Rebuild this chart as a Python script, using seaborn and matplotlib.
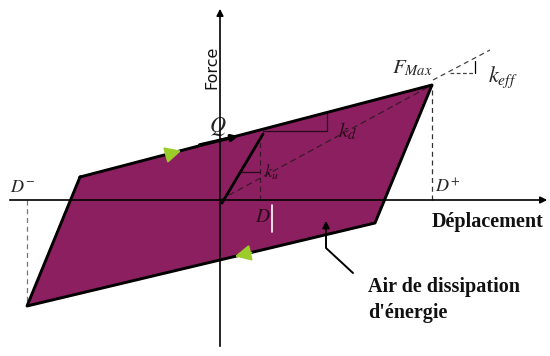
import matplotlib
matplotlib.use("Agg")
import matplotlib.pyplot as plt
import seaborn as sns
import pandas as pd

# Bilinear hysteresis loop (displacement, force), corners in loop order
loop_disp = [-14.0, 21.2, 15.5, -19.3, -14.0]
loop_force = [2.3, 11.5, -2.3, -10.6, 2.3]

# elastic branch from origin (k_u)
elastic_disp = [0.2, 4.3]
elastic_force = [-0.3, 6.6]

# peak values
d_plus, f_max = 21.2, 11.5
d_minus, f_min = -19.3, -10.6
d_yield = 4.0

LOOP_COLOR = "#8b1f60"
ARROW_GREEN = "#9ccc2a"

sns.set_theme(style="white")
plt.rcParams["font.family"] = ["Liberation Serif", "DejaVu Serif"]
plt.rcParams["mathtext.fontset"] = "stix"

fig = plt.figure(figsize=(5.5, 3.56), dpi=100)
ax = fig.add_axes([0, 0, 1, 1])
ax.set_xlim(-22, 33)
ax.set_ylim(-15.6, 20)
ax.axis("off")

# filled loop + outline
ax.fill(loop_disp, loop_force, color=LOOP_COLOR, zorder=1)
df = pd.DataFrame({"d": loop_disp, "f": loop_force})
sns.lineplot(data=df, x="d", y="f", sort=False, estimator=None,
             color="black", lw=2.1, ax=ax, zorder=3)

# axes with arrows
ax.annotate("", xy=(33.0, 0), xytext=(-21.3, 0),
            arrowprops=dict(arrowstyle="-|>", color="black", lw=1.2,
                            mutation_scale=10), zorder=4)
ax.annotate("", xy=(0, 19.4), xytext=(0, -14.9),
            arrowprops=dict(arrowstyle="-|>", color="black", lw=1.2,
                            mutation_scale=10), zorder=4)

# elastic branch
ax.plot(elastic_disp, elastic_force, color="black", lw=2.0, zorder=4)

# secant (k_eff) dashed line through the peak, plus slope mark
ax.plot([0, d_plus], [0, f_max], ls=(0, (5, 3)), color="#3a1a2a", lw=0.9, zorder=2)
ax.plot([d_plus + 0.1, 27.0], [f_max + 0.5, 15.0], ls=(0, (4, 3)), color="#444444", lw=0.9)
ax.plot([23.0, 25.5], [12.7, 12.7], ls=(0, (3, 2)), color="#444444", lw=0.9)
ax.plot([25.5, 25.5], [12.7, 13.9], color="black", lw=0.9)

# projections to displacement axis
ax.plot([d_plus, d_plus], [0, f_max], ls=(0, (4, 3)), color="#333333", lw=0.9)
ax.plot([d_minus, d_minus], [0, f_min], ls=(0, (4, 3)), color="#777777", lw=0.9)
ax.plot([d_yield, d_yield], [0, 6.3], ls=(0, (4, 3)), color="#3a1a2a", lw=0.9, zorder=2)

# k_d slope mark under upper branch
ax.plot([4.3, 10.7, 10.7], [6.9, 6.9, 8.7], color="#2a0a1a", lw=0.9, zorder=2)
# k_u slope mark
ax.plot([2.1, d_yield], [2.8, 2.8], color="#2a0a1a", lw=0.9, zorder=2)
# white marker near D
ax.plot([5.2, 5.2], [-0.5, -3.2], color="white", lw=1.2, zorder=4)

# loading direction arrows
ax.annotate("", xy=(2.1, 6.45), xytext=(-2.3, 5.45),
            arrowprops=dict(arrowstyle="-|>", color="black", lw=2.4,
                            mutation_scale=9), zorder=5)
ax.annotate("", xy=(-3.6, 5.0), xytext=(-5.6, 4.45),
            arrowprops=dict(arrowstyle="-|>", color=ARROW_GREEN, lw=1.5,
                            mutation_scale=24), zorder=5)
ax.annotate("", xy=(1.2, -5.7), xytext=(3.4, -5.2),
            arrowprops=dict(arrowstyle="-|>", color=ARROW_GREEN, lw=1.5,
                            mutation_scale=24), zorder=5)

# labels
ax.text(-0.8, 13.3, "Force", rotation=90, ha="center", va="center",
        fontsize=11.5, family=["DejaVu Sans"], color="#111111")
ax.text(-0.2, 7.3, "$Q$", ha="center", va="center", fontsize=16)
ax.text(12.7, 6.9, "$k_d$", ha="center", va="center", fontsize=15, color="#2a0a1a")
ax.text(5.1, 2.8, "$k_u$", ha="center", va="center", fontsize=12, color="#2a0a1a")
ax.text(19.2, 13.2, "$F_{Max}$", ha="center", va="center", fontsize=15)
ax.text(28.3, 12.3, "$k_{eff}$", ha="center", va="center", fontsize=16)
ax.text(22.8, 1.3, "$D^{+}$", ha="center", va="center", fontsize=13)
ax.text(-19.8, 1.3, "$D^{-}$", ha="center", va="center", fontsize=13)
ax.text(4.3, -1.8, "$D$", ha="center", va="center", fontsize=14, color="#2a0a1a")
ax.text(26.8, -2.2, "Déplacement", ha="center", va="center",
        fontsize=14.5, fontweight="bold", color="#111111")
ax.text(14.8, -8.7, "Air de dissipation", ha="left", va="center",
        fontsize=14.5, fontweight="bold", color="#111111")
ax.text(14.8, -11.3, "d'énergie", ha="left", va="center",
        fontsize=14.5, fontweight="bold", color="#111111")

# pointer to the dissipated area
ax.plot([13.3, 10.6, 10.6], [-7.3, -4.8, -3.5], color="black", lw=1.4, zorder=4)
ax.annotate("", xy=(10.6, -1.8), xytext=(10.6, -3.6),
            arrowprops=dict(arrowstyle="-|>", color="black", lw=1.4,
                            mutation_scale=10), zorder=4)

fig.savefig("out.png", dpi=100)
